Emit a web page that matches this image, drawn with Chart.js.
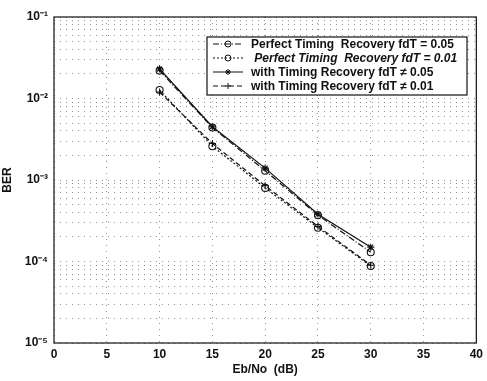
<!DOCTYPE html>
<html><head><meta charset="utf-8">
<script src="https://cdn.jsdelivr.net/npm/chart.js@4/dist/chart.umd.min.js"></script>
<style>html,body{margin:0;padding:0;background:#fff}#wrap{width:487px;height:381px}</style>
</head><body><div id="wrap"><canvas id="c" width="487" height="381"></canvas></div>
<script>
const ebno = [10, 15, 20, 25, 30];
const perfect005 = [0.022, 0.0044, 0.0013, 0.00037, 0.00013];
const perfect001 = [0.0127, 0.0026, 0.0008, 0.00026, 0.000088];
const timing005 = [0.023, 0.0045, 0.0014, 0.00038, 0.00015];
const timing001 = [0.012, 0.0028, 0.00085, 0.00027, 0.00009];
const seriesLabels = [
  'Perfect Timing  Recovery fdT = 0.05',
  ' Perfect Timing  Recovery fdT = 0.01',
  'with Timing Recovery fdT \u2260 0.05',
  'with Timing Recovery fdT \u2260 0.01'
];
const xTicks = [0, 5, 10, 15, 20, 25, 30, 35, 40];
const yDecades = [-5, -4, -3, -2, -1];
const sup = {'-':'\u207B','1':'\u00B9','2':'\u00B2','3':'\u00B3','4':'\u2074','5':'\u2075'};

const FONT = '"Liberation Sans", Arial, sans-serif';
const styles = [
  {dash:[6,2,1,2], pt:'circle', italic:false},
  {dash:[2,2], pt:'circle', italic:true},
  {dash:[], pt:'star', italic:false},
  {dash:[5,3], pt:'cross', italic:false}
];
const seriesData = [perfect005, perfect001, timing005, timing001];

const datasets = seriesData.map((arr, i) => ({
  label: seriesLabels[i],
  data: ebno.map((x, j) => ({x: x, y: arr[j]})),
  borderColor: '#111',
  backgroundColor: 'rgba(0,0,0,0)',
  borderWidth: 1.2,
  borderDash: styles[i].dash,
  pointStyle: styles[i].pt,
  pointRadius: 3.5,
  pointBackgroundColor: 'rgba(255,255,255,0)',
  pointBorderColor: '#111',
  pointBorderWidth: 1.1,
  tension: 0
}));

const legendPlugin = {
  id: 'boxLegend',
  afterDatasetsDraw(chart) {
    const ctx = chart.ctx;
    const x0 = 207, y0 = 37, w = 260, h = 58;
    ctx.save();
    ctx.fillStyle = '#fff';
    ctx.fillRect(x0, y0, w, h);
    ctx.strokeStyle = '#111';
    ctx.lineWidth = 1.2;
    ctx.setLineDash([]);
    ctx.strokeRect(x0, y0, w, h);
    const rows = [44, 58, 72, 86];
    chart.data.datasets.forEach((ds, i) => {
      const y = rows[i];
      ctx.strokeStyle = '#111';
      ctx.lineWidth = 1;
      ctx.setLineDash(styles[i].dash.length ? styles[i].dash : []);
      ctx.beginPath(); ctx.moveTo(213, y); ctx.lineTo(243, y); ctx.stroke();
      ctx.setLineDash([]);
      ctx.fillStyle = 'rgba(255,255,255,0)';
      Chart.helpers.drawPoint(ctx, {pointStyle: ds.pointStyle, radius: 3, borderWidth: 1}, 228, y);
      ctx.fillStyle = '#111';
      ctx.font = (styles[i].italic ? 'italic ' : '') + 'bold 12px ' + FONT;
      ctx.textBaseline = 'middle';
      ctx.textAlign = 'left';
      ctx.fillText(ds.label, 251, y + 1);
    });
    ctx.restore();
  }
};

new Chart(document.getElementById('c'), {
  type: 'line',
  data: { datasets },
  options: {
    responsive: false,
    animation: false,
    layout: { padding: { left: 0, right: 7, top: 17, bottom: 0 } },
    plugins: { legend: { display: false }, tooltip: { enabled: false } },
    scales: {
      x: {
        type: 'linear', min: 0, max: 40,
        afterBuildTicks(s) { s.ticks = xTicks.map(v => ({value: v})); },
        afterFit(s) { s.height = 38; },
        ticks: { color: '#111', font: { family: FONT, size: 12, weight: 'bold' }, padding: 4, maxRotation: 0, callback: v => v },
        grid: { color: '#777', lineWidth: 0.8, drawTicks: false },
        border: { display: false, dash: [1, 5] },
        title: { display: true, text: 'Eb/No  (dB)', color: '#111', font: { family: FONT, size: 12, weight: 'bold' }, padding: { top: 0, bottom: 4 } }
      },
      y: {
        type: 'logarithmic', min: 1e-5, max: 1e-1,
        afterBuildTicks(s) {
          const t = [];
          for (let d = -5; d <= -1; d++) {
            for (let m = 1; m <= 9; m++) {
              if (d === -1 && m > 1) break;
              t.push({value: m * Math.pow(10, d)});
            }
          }
          s.ticks = t;
        },
        afterFit(s) { s.width = 54; },
        ticks: {
          color: '#111', font: { family: FONT, size: 12, weight: 'bold' }, padding: 6, autoSkip: false,
          callback(v) {
            const e = Math.round(Math.log10(v));
            if (Math.abs(v - Math.pow(10, e)) / v > 1e-6) return '';
            if (!yDecades.includes(e)) return '';
            return '10' + String(e).split('').map(c => sup[c]).join('');
          }
        },
        grid: { color: '#777', lineWidth: 0.8, drawTicks: false },
        border: { display: false, dash: [1, 5] },
        title: { display: true, text: 'BER', color: '#111', font: { family: FONT, size: 12, weight: 'bold' }, padding: { top: 0, bottom: 4 } }
      }
    }
  },
  plugins: [legendPlugin, {
    id: 'frame',
    afterDraw(chart) {
      const a = chart.chartArea, ctx = chart.ctx;
      ctx.save(); ctx.strokeStyle = '#111'; ctx.lineWidth = 1.2; ctx.setLineDash([]);
      ctx.strokeRect(a.left, a.top, a.right - a.left, a.bottom - a.top);
      ctx.restore();
    }
  }]
});
</script>
</body></html>
